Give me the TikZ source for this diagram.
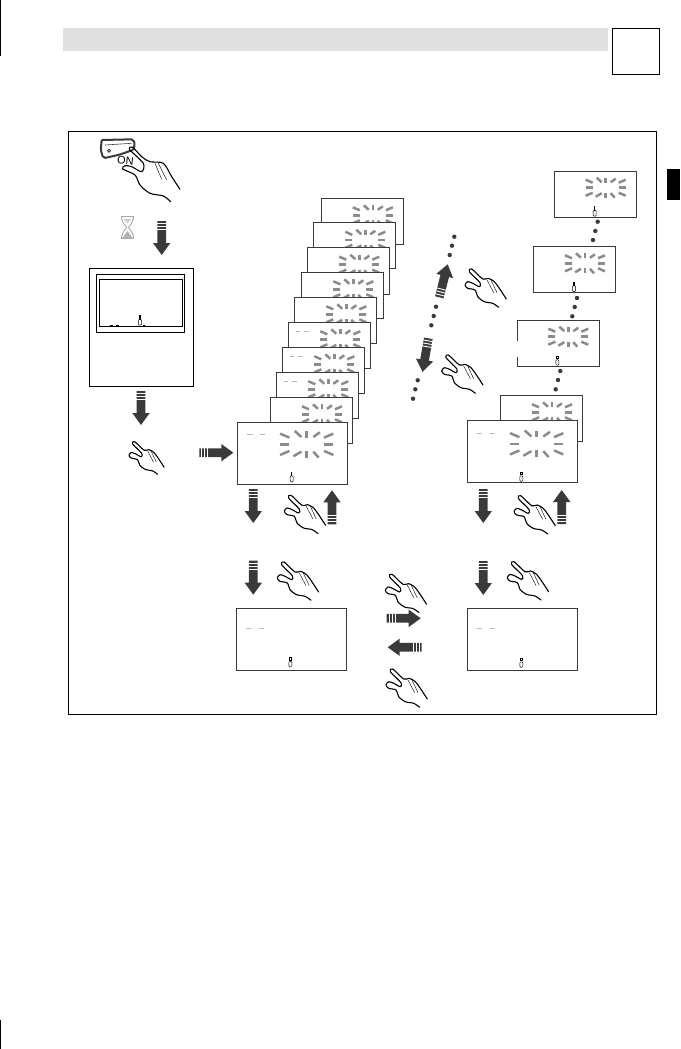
\documentclass[tikz,border=0pt]{standalone}
\usepackage{fontspec}
\setmainfont{Liberation Sans}
\usetikzlibrary{positioning, calc}
\definecolor{inkdark}{HTML}{3A3A3A}
\definecolor{raygray}{HTML}{8C8C8C}
\definecolor{headgray}{HTML}{E0E0E0}

\tikzset{
    stackbox/.style = {rectangle, draw=inkdark, fill=white, line width=0.9pt, anchor=north west, inner sep=0pt, outer sep=0pt, minimum width=82.5pt, minimum height=46.5pt},
    mainbox/.style = {rectangle, draw=inkdark, fill=white, line width=1pt, anchor=north west, inner sep=0pt, outer sep=0pt, minimum width=110.5pt, minimum height=62pt},
    plainbox/.style = {rectangle, draw=black, line width=1pt, anchor=north west, inner sep=0pt, outer sep=0pt},
    handline/.style = {draw=black, line width=1.1pt, line cap=round, line join=round},
    dashmark/.style = {draw=gray!55, line width=0.6pt},
    dotmark/.style = {circle, fill=inkdark, inner sep=0pt, minimum size=4.4pt},
    pics/burst/.style = {code = {
        \foreach \xa/\ya/\xb/\yb in {13/0/20/0, -13/0/-20/0, 0/-5/0/-10, 0/5/0/10,
            5/-5.5/10/-9, -4/-5.5/-9/-10, 5/5.5/9/10, -4/5.5/-10/9,
            13/-5/20/-8, -13/-5/-20/-8, 13/5/20/8, -13/5/-20/8}
            \draw [raygray, line width=2.5pt] (\xa,\ya) -- (\xb,\yb);
    }},
    pics/blockarrow/.style = {code = {
        \fill [inkdark] (-4.4,0) -- (4.4,0) -- (4.4,22) -- (8.7,22) -- (0,34) -- (-8.7,22) -- (-4.4,22) -- cycle;
        \foreach \t in {2.5,5.5,8.5}
            \draw [white, line width=0.9pt] (-5,\t) -- (5,\t);
    }},
    pics/hand/.style = {code = {
        \draw [handline] plot [smooth, tension=0.5] coordinates {(41.3,30) (34.3,19.3) (29.3,12.7) (23.3,9.3) (17.7,10) (6.7,0) (4.3,2.7) (15,13.7) (14.3,17.7) (7.7,14.3) (2.7,12.7) (0,16) (2.7,19.3) (10,21) (12.7,27.7) (19.3,32.7) (27.7,34.3) (33.7,38.3)};
        \draw [black, line width=0.4pt] (22,11) -- (28.7,23.7);
        \draw [black, line width=0.4pt] (26,11) -- (32,23.7);
    }},
    pics/thermstem/.style = {code = {
        \draw [black, line width=0.5pt, rounded corners=1pt] (-1.5,-2.5) rectangle (1.5,3.5);
        \draw [black, line width=1.2pt] (0,-6.5) -- (0,-2);
    }},
    pics/thermcap/.style = {code = {
        \draw [black, line width=0.5pt, rounded corners=1pt] (-1.5,-2) rectangle (1.5,3.5);
        \draw [black, line width=0.8pt] (-1.2,-5.8) rectangle (1.2,-3.2);
    }}
}

\begin{document}
\begin{tikzpicture}[x=1pt, y=-1pt]
\useasboundingbox (0,0) rectangle (680,1049);

% Page marks
\node (band) [rectangle, fill=headgray, anchor=north west, inner sep=0pt, minimum width=545pt, minimum height=23pt, at={(63,28)}] {};
\node (tabbox) [plainbox, minimum width=47pt, minimum height=45.5pt, at={(612,29)}] {};
\node (thumb) [rectangle, fill=black, anchor=north west, inner sep=0pt, minimum width=13pt, minimum height=31pt, at={(667,169)}] {};
\node (cropa) [rectangle, fill=black, anchor=north west, inner sep=0pt, minimum width=1pt, minimum height=56pt, at={(0,0)}] {};
\node (cropb) [rectangle, fill=black, anchor=north west, inner sep=0pt, minimum width=1pt, minimum height=29pt, at={(0,1020)}] {};

% Frame
\node (frame) [plainbox, minimum width=588pt, minimum height=583pt, at={(68.3,131.3)}] {};

% Switch and hand
\draw [inkdark, line width=2pt, rounded corners=2pt] (101.7,140) -- (133.3,139.3) -- (135,145) -- (133,150);
\draw [inkdark, line width=2pt, rounded corners=2pt] (101.7,140) -- (100.7,150) -- (103.3,158.3) -- (118.3,155) -- (133,150);
\draw [inkdark, line width=0.6pt] (105,145) -- (131.7,143.3);
\draw [inkdark, line width=0.8pt] (109,150.7) circle (1.5);
\node (onlabel) [font=\fontsize{11}{12}\selectfont, inner sep=0pt, rotate=-6, at={(125.5,160.3)}] {ON};
\draw [handline] plot [smooth, tension=0.5] coordinates {(180,189.3) (171.7,176.7) (163.3,163.3) (150,161.7) (141.7,156.7) (132.7,147.3) (129.3,149.3) (143.3,163.3) (141.7,171.7) (131.7,166.7) (125,165.7) (122.7,169) (135,175) (140,185) (150,193.3) (163.3,196) (170.7,201.7)};
\draw [black, line width=0.4pt] (155,163.3) -- (161.7,179.3);
\draw [black, line width=0.4pt] (158.3,163.3) -- (166.7,180);

% Hourglass
\draw [gray!70, line width=0.9pt] (121,216) -- (134,216);
\draw [gray!70, line width=0.9pt] (121,238.8) -- (134,238.8);
\draw [gray!70, line width=0.9pt] (121.5,216) .. controls (121.5,224) and (126,225) .. (126.5,227.5) .. controls (126,230) and (121.5,231) .. (121.5,238.8);
\draw [gray!70, line width=0.9pt] (133.5,216) .. controls (133.5,224) and (129,225) .. (128.5,227.5) .. controls (129,230) and (133.5,231) .. (133.5,238.8);
\fill [gray!60] (122.5,238) -- (127.5,231) -- (132.5,238) -- cycle;
\fill [gray!40] (123.5,219) -- (131.5,219) -- (127.5,223) -- cycle;

% Left device
\node (device) [plainbox, minimum width=104pt, minimum height=118pt, at={(89.3,268.3)}] {};
\node (devouter) [plainbox, minimum width=87.6pt, minimum height=57.7pt, at={(96.7,274.3)}] {};
\node (devinner) [plainbox, minimum width=83pt, minimum height=47pt, at={(99.3,279.3)}] {};
\pic at (140,321.7) {thermstem};
\draw [black, line width=1pt] (109.5,325.3) -- (112.5,325.3);
\draw [black, line width=1pt] (116,325.3) -- (119,325.3);
\draw [black, line width=1pt] (143,325.3) -- (145,325.3);

% Middle stack
\node (sta) [stackbox, at={(321.3,198.3)}] {};
\pic at ($(sta.north west)+(51.5,17)$) {burst};
\node (stb) [stackbox, at={(313.3,222.3)}] {};
\pic at ($(stb.north west)+(52,17.5)$) {burst};
\node (stc) [stackbox, at={(307.3,247.7)}] {};
\pic at ($(stc.north west)+(52,17)$) {burst};
\node (std) [stackbox, at={(301.3,272.3)}] {};
\pic at ($(std.north west)+(52,17)$) {burst};
\node (ste) [stackbox, at={(294.3,297.3)}] {};
\pic at ($(ste.north west)+(52,17)$) {burst};
\node (stf) [stackbox, at={(288.3,322.3)}] {};
\pic at ($(stf.north west)+(52,17)$) {burst};
\draw [dashmark] ($(stf.north west)+(7.7,9)$) -- +(4,0);
\draw [dashmark] ($(stf.north west)+(16,9)$) -- +(5,0);
\node (stg) [stackbox, at={(282.3,347.3)}] {};
\pic at ($(stg.north west)+(52,17)$) {burst};
\draw [dashmark] ($(stg.north west)+(7.7,9)$) -- +(4,0);
\draw [dashmark] ($(stg.north west)+(16,9)$) -- +(5,0);
\node (sth) [stackbox, at={(276.3,372.3)}] {};
\pic at ($(sth.north west)+(52,17)$) {burst};
\draw [dashmark] ($(sth.north west)+(7.7,9)$) -- +(4,0);
\draw [dashmark] ($(sth.north west)+(16,9)$) -- +(5,0);
\node (sti) [stackbox, at={(270,397.3)}] {};
\pic at ($(sti.north west)+(52,17)$) {burst};
\node (mainl) [mainbox, at={(237.3,422.3)}] {};
\pic [scale=1.33] at ($(mainl.north west)+(69.4,22)$) {burst};
\draw [dashmark] ($(mainl.north west)+(10,11.7)$) -- +(5.4,0);
\draw [dashmark] ($(mainl.north west)+(22.7,11.7)$) -- +(5.4,0);
\pic at ($(mainl.north west)+(54.4,56)$) {thermstem};

% Right column
\node (rta) [stackbox, at={(554.3,171.3)}] {};
\pic at ($(rta.north west)+(51.4,16.4)$) {burst};
\pic at (594.7,212.7) {thermstem};
\node (rtb) [stackbox, at={(533.3,246.3)}] {};
\pic at ($(rtb.north west)+(51.7,17)$) {burst};
\pic at (574,288.3) {thermstem};
\node (rtc) [stackbox, at={(517.3,320.3)}] {};
\pic at ($(rtc.north west)+(51,16.4)$) {burst};
\pic at (557.3,361.7) {thermcap};
\draw [white, line width=1.6pt] (517.3,340.5) -- (517.3,357);
\node (rtd) [stackbox, at={(500.3,395.3)}] {};
\pic at ($(rtd.north west)+(51.7,17)$) {burst};
\node (mainr) [mainbox, at={(467.3,420.8)}] {};
\pic [scale=1.33] at ($(mainr.north west)+(69.4,23)$) {burst};
\draw [dashmark] ($(mainr.north west)+(10,12)$) -- +(5,0);
\draw [dashmark] ($(mainr.north west)+(22.7,12)$) -- +(5.4,0);
\pic at ($(mainr.north west)+(54,57)$) {thermcap};

% Bottom displays
\node (dispbl) [mainbox, at={(236.3,608.3)}] {};
\draw [dashmark] ($(dispbl.north west)+(9.7,20)$) -- +(4.7,0);
\draw [dashmark] ($(dispbl.north west)+(22.7,20)$) -- +(5,0);
\pic at ($(dispbl.north west)+(54,55)$) {thermcap};
\node (dispbr) [mainbox, at={(467.3,608.3)}] {};
\draw [dashmark] ($(dispbr.north west)+(10,20)$) -- +(4.7,0);
\draw [dashmark] ($(dispbr.north west)+(23,20)$) -- +(5,0);
\pic at ($(dispbr.north west)+(54,55.5)$) {thermcap};

% Dots right column
\node (rda) [dotmark, at={(597.7,221.7)}] {};
\node (rdb) [dotmark, at={(595.3,231)}] {};
\node (rdc) [dotmark, at={(593,240)}] {};
\node (rdd) [dotmark, at={(577,298)}] {};
\node (rde) [dotmark, at={(574.7,307)}] {};
\node (rdf) [dotmark, at={(572.3,316.3)}] {};
\node (rdg) [dotmark, at={(560.3,371)}] {};
\node (rdh) [dotmark, at={(558,380)}] {};
\node (rdi) [dotmark, at={(555.7,389.3)}] {};

% Dots middle
\node (mda) [dotmark, at={(454.3,236.7)}] {};
\node (mdb) [dotmark, at={(452,245.7)}] {};
\node (mdc) [dotmark, at={(449.7,255)}] {};
\node (mdd) [dotmark, at={(436,306.7)}] {};
\node (mde) [dotmark, at={(433.7,316)}] {};
\node (mdf) [dotmark, at={(431.3,325.3)}] {};
\node (mdg) [dotmark, at={(417.7,380.3)}] {};
\node (mdh) [dotmark, at={(415.3,389.3)}] {};
\node (mdi) [dotmark, at={(413,398.7)}] {};

% Block arrows
\pic at (161.7,221) {blockarrow};
\pic at (141,391) {blockarrow};
\pic [rotate=90] at (199.3,452.7) {blockarrow};
\pic at (253.3,489) {blockarrow};
\pic [rotate=180] at (332,524.3) {blockarrow};
\pic at (253.3,560.7) {blockarrow};
\pic [rotate=90] at (386.7,618.3) {blockarrow};
\pic [rotate=-90] at (421.7,647.3) {blockarrow};
\pic at (483.3,489) {blockarrow};
\pic [rotate=180] at (561.7,524) {blockarrow};
\pic at (483.3,561) {blockarrow};
\pic [rotate=165.7] at (439.3,297.3) {blockarrow};
\pic [rotate=-9.8] at (428.3,338.3) {blockarrow};

% Hands
\pic [scale=0.85] at (129,441.7) {hand};
\pic at (284.3,495.3) {hand};
\pic at (277.3,562) {hand};
\pic at (385.3,574.3) {hand};
\pic at (386,669) {hand};
\pic at (514,495.7) {hand};
\pic at (507.3,561.7) {hand};
\pic at (465,269) {hand};
\pic at (441.7,355) {hand};

\end{tikzpicture}
\end{document}
